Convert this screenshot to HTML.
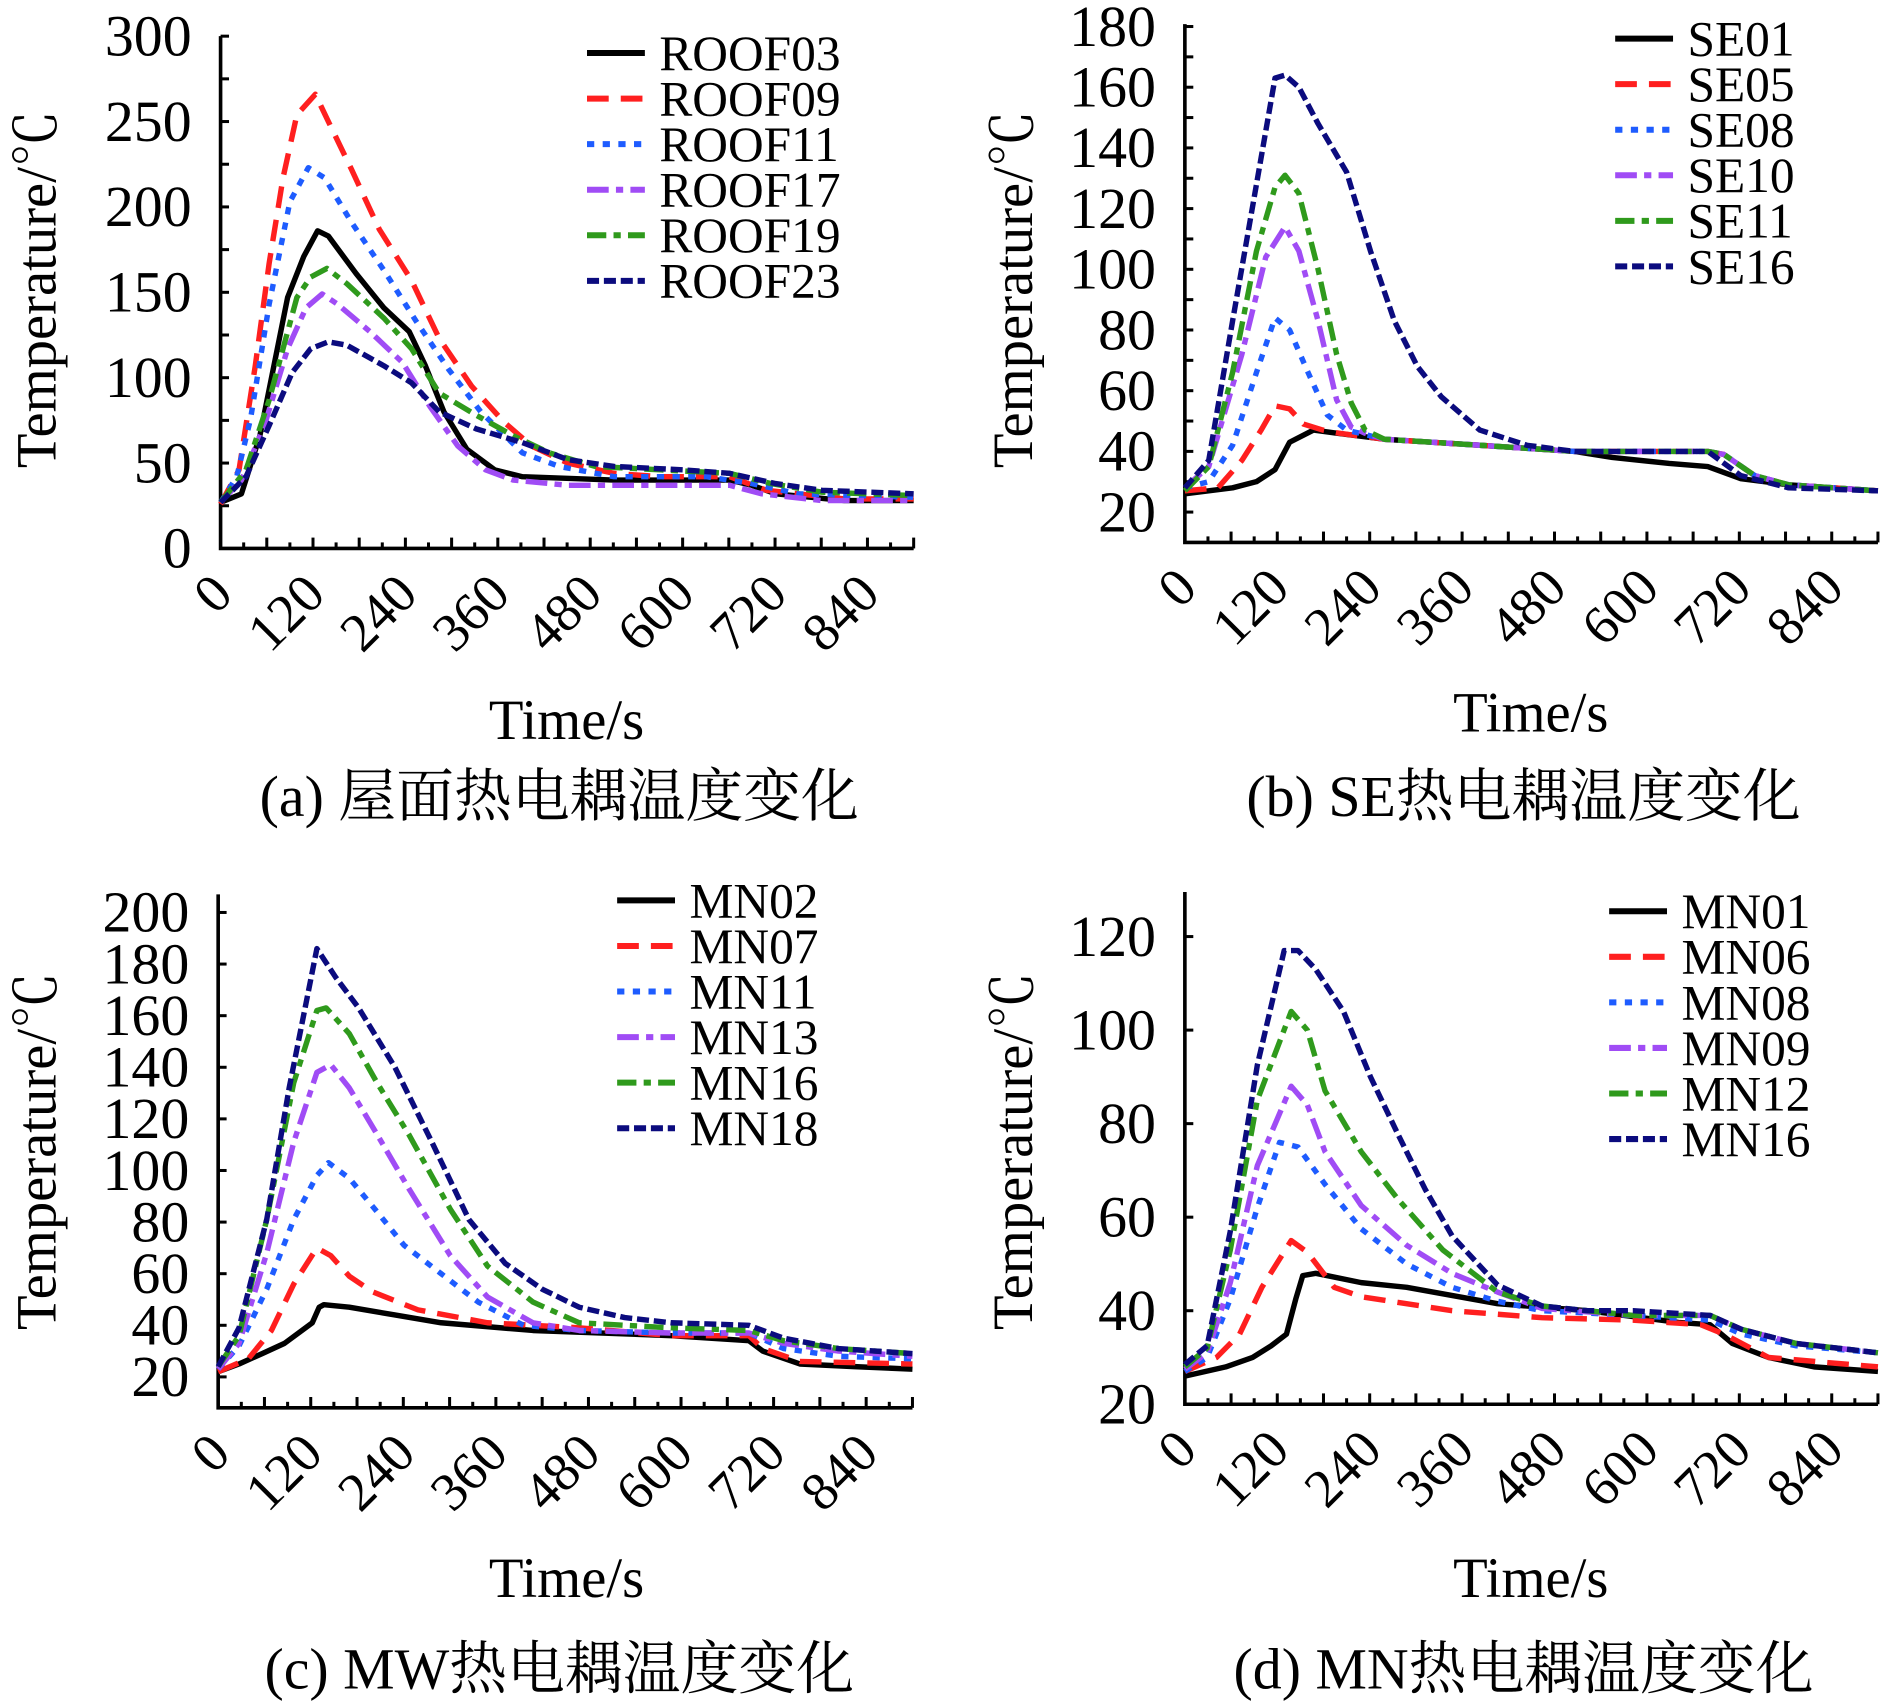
<!DOCTYPE html>
<html><head><meta charset="utf-8"><style>
html,body{margin:0;padding:0;background:#fff;}
svg{display:block;}
text{font-family:"Liberation Serif","Noto Serif CJK SC",serif;fill:#000;}
</style></head><body>
<svg id="fig" width="1890" height="1708" viewBox="0 0 1568 1417" xmlns="http://www.w3.org/2000/svg"></svg>
<script>
// ---------- Panel (a) data ----------
const aR03t=[0,27,51,87,108,126,140,176,212,245,266,290,320,356,392,511,661,690,721,810,900];
const aR03v=[27,32,66,147,171,186,183,161,141,127,107,80,58,46,42,40,40,37,32,28,28];
const aR09t=[0,24,45,63,81,99,123,140,170,206,248,284,326,368,404,451,511,571,661,709,810,900];
const aR09v=[26,46,107,167,217,254,266,250,222,187,157,123,95,74,60,50,44,42,42,34,29,29];
const aR11t=[0,21,39,63,90,114,135,170,212,254,296,338,392,440,511,631,690,750,900];
const aR11v=[27,42,76,143,203,223,217,191,163,133,105,80,56,48,42,42,38,32,30];
const aR17t=[0,27,57,87,111,132,152,194,236,272,308,344,380,451,661,703,781,900];
const aR17v=[27,40,72,117,141,149,143,127,109,83,60,46,40,37,37,32,28,28];
const aR19t=[0,33,63,99,117,138,164,212,248,284,332,380,427,487,571,661,715,781,900];
const aR19v=[27,46,87,147,159,164,155,135,117,91,78,66,56,48,46,44,38,33,31];
const aR23t=[0,33,63,93,117,140,164,212,248,284,332,392,451,511,601,661,721,781,900];
const aR23v=[27,42,72,103,117,121,119,107,97,80,70,62,52,48,46,44,38,34,32];
// ---------- Panel (b) data ----------
const bS01t=[0,62,93,117,136,167,197,259,383,506,555,629,679,722,784,900];
const bS01v=[26,28,30,34,43,47,46,44,42,40,38,36,35,31,29,27];
const bS05t=[0,43,74,99,117,136,154,179,200,259,383,506,555,679,700,740,784,900];
const bS05v=[27,28,37,47,55,54,49,47,46,44,42,40,40,40,39,32,29,27];
const bS08t=[0,31,62,93,117,136,160,185,210,259,383,506,555,679,700,740,784,900];
const bS08v=[28,30,42,66,84,80,66,52,47,44,42,40,40,40,39,32,29,27];
const bS10t=[0,31,74,105,130,148,173,197,216,234,259,383,506,555,679,700,740,784,900];
const bS10v=[28,35,72,104,114,106,83,57,48,46,44,42,40,40,40,39,32,29,27];
const bS11t=[0,31,62,93,117,130,148,173,197,216,234,259,383,506,555,679,700,740,784,900];
const bS11v=[27,35,66,106,127,131,125,100,72,56,47,44,42,40,40,40,39,32,29,27];
const bS16t=[0,31,62,93,117,130,148,173,210,241,272,302,333,383,444,506,568,679,722,784,900];
const bS16v=[28,37,83,128,163,164,160,148,132,106,83,68,58,47,42,40,40,40,32,28,27];
// ---------- Panel (c) data ----------
const cM02t=[0,27,57,86,122,131,137,170,229,289,408,587,688,706,754,825,900];
const cM02v=[22,25,29,33,41,47,48,47,44,41,38,36,34,30,25,24,23];
const cM07t=[0,39,69,98,128,146,170,200,259,349,468,587,688,706,754,900];
const cM07v=[22,27,38,56,70,67,59,53,46,41,39,36,36,31,26,25];
const cM11t=[0,27,63,98,128,143,170,206,241,289,337,396,468,587,688,733,804,900];
const cM11v=[23,32,54,81,98,103,97,84,71,60,49,40,38,37,37,31,28,27];
const cM13t=[0,27,63,98,128,146,170,206,247,301,349,408,468,587,688,733,804,900];
const cM13v=[23,33,68,111,138,141,132,114,93,67,51,41,38,37,37,33,30,28];
const cM16t=[0,27,63,98,128,140,170,206,247,301,349,408,468,587,688,733,804,900];
const cM16v=[24,36,81,134,162,163,153,134,114,85,63,49,41,39,38,34,31,29];
const cM18t=[0,27,63,92,128,152,182,229,277,325,372,420,468,527,587,688,733,804,900];
const cM18v=[24,39,81,132,186,175,163,140,111,81,64,54,47,43,41,40,35,31,29];
// ---------- Panel (d) data ----------
const dM01t=[0,53,88,112,132,144,153,170,229,288,406,523,641,682,711,758,817,900];
const dM01v=[26,28,30,32.5,35,42.5,47.5,48,46,45,41.5,40,37.5,37,33,30,28,27];
const dM06t=[0,41,71,100,138,159,194,229,347,464,582,670,700,758,900];
const dM06v=[27,30,35,45,55,52.5,45,43,40,38.5,38,37,35,30,28];
const dM08t=[0,29,59,94,123,147,182,229,288,347,406,464,582,682,723,794,900];
const dM08v=[27,30,42.5,62,76,75,67,57.5,50,45,42,40,39,38,35,32.5,31];
const dM09t=[0,29,59,94,138,159,182,229,288,347,406,464,582,682,723,794,900];
const dM09v=[27.5,31,46,71,88,84,74,62.5,54,48,44,40.5,39,39,36,33,31];
const dM12t=[0,29,59,94,138,159,182,229,276,335,406,464,582,682,723,794,900];
const dM12v=[28,32,53,85,104,100,87,74,64,53,44,41,39,39,36,33,31];
const dM16t=[0,29,59,94,129,147,170,206,241,276,312,347,406,464,523,582,682,723,794,900];
const dM16v=[28.5,32.5,57,92.5,117,117,113,104,90,78,66,56,45.5,41,40,40,39,36,33,31];

const xTickLabels=[0,120,240,360,480,600,720,840];
const aYTicks=[0,50,100,150,200,250,300];
const bYTicks=[20,40,60,80,100,120,140,160,180];
const cYTicks=[20,40,60,80,100,120,140,160,180,200];
const dYTicks=[20,40,60,80,100,120];
const aNames=['ROOF03','ROOF09','ROOF11','ROOF17','ROOF19','ROOF23'];
const bNames=['SE01','SE05','SE08','SE10','SE11','SE16'];
const cNames=['MN02','MN07','MN11','MN13','MN16','MN18'];
const dNames=['MN01','MN06','MN08','MN09','MN12','MN16'];

const STY=[
 {c:'#000000',d:''},
 {c:'#ff1f1f',d:'18 10'},
 {c:'#1e5cff',d:'6 7'},
 {c:'#a04cf5',d:'18 6 6 6'},
 {c:'#2f9a1c',d:'16 6 6 6'},
 {c:'#0b0b7e',d:'10 4'}
];
const NS='http://www.w3.org/2000/svg';
const svg=document.getElementById('fig');
function mk(tag,attrs,parent){const e=document.createElementNS(NS,tag);for(const k in attrs)e.setAttribute(k,attrs[k]);(parent||svg).appendChild(e);return e;}

function panel(P){
  const g=mk('g',{});
  
  
  const xs=t=>P.x0+(t/900)*(P.x1-P.x0);
  const ys=v=>P.yAxis+(v-P.vAxis)*(P.yTop-P.yAxis)/(P.vTop-P.vAxis);
  const ax=mk('path',{d:`M${P.x0} ${P.yTopLine} L${P.x0} ${P.yAxis} L${P.x1} ${P.yAxis}`,fill:'none',stroke:'#000','stroke-width':3},g);
  
  
  const start=Math.ceil(P.vAxis/P.yMinor)*P.yMinor;
  for(let v=start;v<=P.vTop+0.01;v+=P.yMinor){
    const y=ys(v); if(Math.abs(y-P.yAxis)<1) continue;
    mk('line',{x1:P.x0,y1:y,x2:P.x0+7,y2:y,stroke:'#000','stroke-width':2.5},g);
  }
  P.yTicks.forEach(v=>{
    const t=mk('text',{x:P.x0-24,y:ys(v)+16,'text-anchor':'end','font-size':48},g);t.textContent=v;
    
    
  });
  for(let t=30;t<=900;t+=30){
    const len=(t%60===0)?9:5;
    mk('line',{x1:xs(t),y1:P.yAxis,x2:xs(t),y2:P.yAxis-len,stroke:'#000','stroke-width':2.5},g);
  }
  xTickLabels.forEach(v=>{
    const x=xs(v)+12,y=P.yAxis+40;
    const t=mk('text',{x:x,y:y,'text-anchor':'end','font-size':45,transform:`rotate(-45 ${x} ${y})`},g);t.textContent=v;
    
    
  });
  P.series.forEach((s,i)=>{
    const d=s[0].map((t,k)=>(k?'L':'M')+xs(t).toFixed(1)+' '+ys(s[1][k]).toFixed(1)).join(' ');
    const p=mk('path',{d:d,fill:'none',stroke:STY[i].c,'stroke-width':4.5,'stroke-dasharray':STY[i].d,'stroke-linejoin':'round'},g);
    
    
    const ly=P.legY+i*37.8;
    const ll=mk('line',{x1:P.legX,y1:ly,x2:P.legX+48,y2:ly,stroke:STY[i].c,'stroke-width':5,'stroke-dasharray':STY[i].d},g);
    
    
    const lt=mk('text',{x:P.legX+60,y:ly+14,'font-size':41},g);lt.textContent=P.names[i];
    
    
  });
  const yt=mk('text',{x:P.ytX,y:P.ytY,'text-anchor':'middle','font-size':47,transform:`rotate(-90 ${P.ytX} ${P.ytY})`},g);yt.textContent='Temperature/℃';
  
  
  const xt=mk('text',{x:P.xtX,y:P.xtY,'text-anchor':'middle','font-size':47},g);xt.textContent='Time/s';
  
  
  const cp=mk('text',{x:P.xtX-6,y:P.capY,'text-anchor':'middle','font-size':48},g);cp.textContent=P.cap;
  
  
}

panel({id:'panel-a',x0:183,x1:758,yAxis:455,vAxis:0,yTop:30,vTop:300,yTopLine:30,yMinor:25,yTicks:aYTicks,
  series:[[aR03t,aR03v],[aR09t,aR09v],[aR11t,aR11v],[aR17t,aR17v],[aR19t,aR19v],[aR23t,aR23v]],names:aNames,
  legX:487,legY:44,ytX:46,ytY:240,xtX:470,xtY:613,capY:677,cap:'(a) 屋面热电耦温度变化'});
panel({id:'panel-b',x0:983,x1:1558,yAxis:450,vAxis:10,yTop:22,vTop:180,yTopLine:20,yMinor:10,yTicks:bYTicks,
  series:[[bS01t,bS01v],[bS05t,bS05v],[bS08t,bS08v],[bS10t,bS10v],[bS11t,bS11v],[bS16t,bS16v]],names:bNames,
  legX:1340,legY:32,ytX:856,ytY:240,xtX:1270,xtY:607,capY:677,cap:'(b) SE热电耦温度变化'});
panel({id:'panel-c',x0:181,x1:757,yAxis:1168,vAxis:8,yTop:757,vTop:200,yTopLine:742,yMinor:20,yTicks:cYTicks,
  series:[[cM02t,cM02v],[cM07t,cM07v],[cM11t,cM11v],[cM13t,cM13v],[cM16t,cM16v],[cM18t,cM18v]],names:cNames,
  legX:512,legY:747,ytX:46,ytY:955,xtX:470,xtY:1325,capY:1401,cap:'(c) MW热电耦温度变化'});
panel({id:'panel-d',x0:983,x1:1558,yAxis:1165,vAxis:20,yTop:777,vTop:120,yTopLine:740,yMinor:20,yTicks:dYTicks,
  series:[[dM01t,dM01v],[dM06t,dM06v],[dM08t,dM08v],[dM09t,dM09v],[dM12t,dM12v],[dM16t,dM16v]],names:dNames,
  legX:1335,legY:756,ytX:856,ytY:955,xtX:1270,xtY:1325,capY:1401,cap:'(d) MN热电耦温度变化'});
</script>
</body></html>
